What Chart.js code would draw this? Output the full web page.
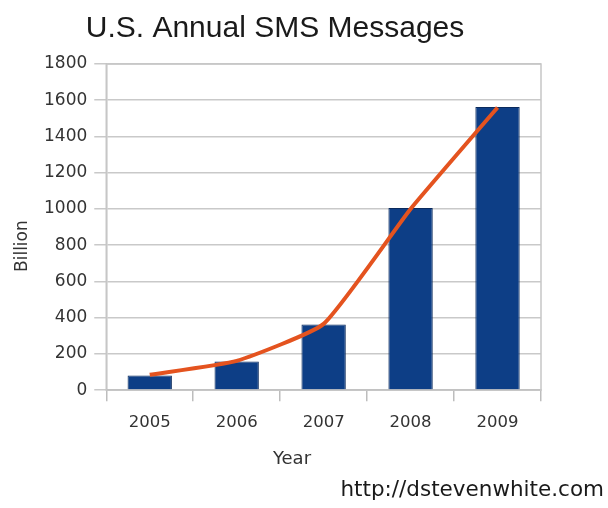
<!DOCTYPE html>
<html>
<head>
<meta charset="utf-8">
<script src="https://cdn.jsdelivr.net/npm/chart.js@4"></script>
<style>
  html, body { margin: 0; padding: 0; background: #fff; }
  #wrap { width: 608px; height: 508px; position: relative; }
</style>
</head>
<body>
<div id="wrap"><canvas id="sms"></canvas></div>
<script>
const years = ['2005', '2006', '2007', '2008', '2009'];
const barValues = [81, 158, 363, 1005, 1563];
const trendValues = [85, 162, 366, 1000, 1560];
const yTicks = [0, 200, 400, 600, 800, 1000, 1200, 1400, 1600, 1800];

const FONT = 'DejaVu Sans, sans-serif';
const tickFont = { family: FONT, size: 17 };

// title, axis titles and the source line sit off-centre in the original, so they are drawn here
const extraText = {
    id: 'extraText',
    afterDraw(c) {
        const ctx = c.ctx, a = c.chartArea;
        ctx.save();
        ctx.textBaseline = 'alphabetic';
        ctx.textAlign = 'center';

        ctx.fillStyle = '#1a1a1a';
        ctx.font = '30px Liberation Sans, Arial, sans-serif';
        ctx.fillText('U.S. Annual SMS Messages', c.width / 2 - 29, 37);

        ctx.fillStyle = '#333';
        ctx.font = '18px ' + FONT;
        ctx.fillText('Year', c.width / 2 - 12, a.bottom + 74);

        ctx.save();
        ctx.translate(27, (a.top + a.bottom) / 2 + 19);
        ctx.rotate(-Math.PI / 2);
        ctx.font = '17px ' + FONT;
        ctx.fillText('Billion', 0, 0);
        ctx.restore();

        ctx.textAlign = 'right';
        ctx.fillStyle = '#1a1a1a';
        ctx.font = '21.5px ' + FONT;
        ctx.fillText('http://dstevenwhite.com', c.width - 4, c.height - 12);

        ctx.strokeStyle = '#c6c6c6';
        ctx.lineWidth = 1.5;
        ctx.strokeRect(a.left, a.top, a.right - a.left, a.bottom - a.top);
        ctx.restore();
    }
};

new Chart(document.getElementById('sms'), {
    data: {
        labels: years,
        datasets: [
            {
                type: 'line',
                data: trendValues,
                borderColor: '#e4531f',
                borderWidth: 4,
                pointRadius: 0,
                tension: 0.15,
                order: 0
            },
            {
                type: 'bar',
                data: barValues,
                backgroundColor: '#0d3e86',
                borderColor: '#0a2a5c',
                borderWidth: 1,
                barPercentage: 0.51,
                categoryPercentage: 1,
                order: 1
            }
        ]
    },
    options: {
        responsive: true,
        maintainAspectRatio: false,
        animation: false,
        layout: { padding: { left: 37, right: 67, top: 64, bottom: 63 } },
        scales: {
            x: {
                grid: { display: true, drawOnChartArea: false, color: '#bdbdbd', lineWidth: 1.5, tickLength: 11, offset: true },
                border: { color: '#bdbdbd', width: 1.5 },
                ticks: { color: '#333', font: { family: FONT, size: 16.5 }, padding: 12 }
            },
            y: {
                min: yTicks[0],
                max: yTicks[yTicks.length - 1],
                afterBuildTicks: s => { s.ticks = yTicks.map(v => ({ value: v })); },
                ticks: { color: '#333', font: tickFont, padding: 7, callback: v => String(v) },
                grid: { color: '#c9c9c9', lineWidth: 1.5, tickLength: 12 },
                border: { color: '#bdbdbd', width: 1.5 }
            }
        },
        plugins: {
            legend: { display: false },
            tooltip: { enabled: false },
            title: { display: false }
        }
    },
    plugins: [extraText]
});
</script>
</body>
</html>
